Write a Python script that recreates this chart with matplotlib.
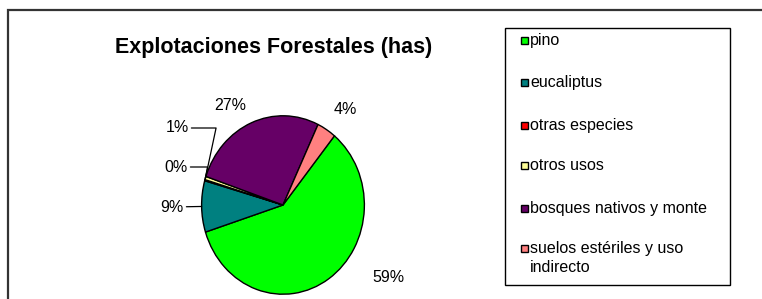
import numpy as np
import matplotlib
matplotlib.use("Agg")
import matplotlib.pyplot as plt
from matplotlib.patches import Rectangle

# ---- data ----
categories = ["pino", "eucaliptus", "otras especies", "otros usos",
              "bosques nativos y monte", "suelos estériles y uso\nindirecto"]
values = [59.2, 9.3, 0.2, 0.6, 26.9, 3.8]
pct_labels = ["59%", "9%", "0%", "1%", "27%", "4%"]
colors = ["#00FF00", "#008080", "#FF0000", "#FFFF99", "#660066", "#FF8080"]
title = "Explotaciones Forestales (has)"

W, H = 762, 299
fig = plt.figure(figsize=(W / 100, H / 100), dpi=100)
FONT = "Liberation Sans"

# outer frame (chart area border, extends beyond the image)
fig.patches.append(Rectangle((8 / W, -0.1), 1.0, (H - 10) / H + 0.1,
                             transform=fig.transFigure, fill=False,
                             edgecolor="#333333", linewidth=1.6))

# pie axes (slightly elliptical)
cx, cy, rx, ry = 283, 205, 83, 91
ax = fig.add_axes([(cx - rx) / W, (H - cy - ry) / H, 2 * rx / W, 2 * ry / H])
wedges, _ = ax.pie(values, colors=colors, startangle=50.8, counterclock=False,
                   wedgeprops=dict(edgecolor="black", linewidth=1.0))
ax.set_aspect("auto")
ax.set_xlim(-1.02, 1.02)
ax.set_ylim(-1.02, 1.02)

# percentage labels
label_pos = {  # figure pixel positions (x, y from top)
    "59%": (388, 278), "9%": (172, 207), "0%": (176, 167),
    "1%": (177, 128), "27%": (230, 105), "4%": (345, 110)}
leader = {"9%", "0%", "1%"}
for w, lab in zip(wedges, pct_labels):
    mid = np.deg2rad((w.theta1 + w.theta2) / 2)
    px, py = label_pos[lab]
    if lab in leader:
        ax.annotate(lab, xy=(np.cos(mid), np.sin(mid)), xycoords="data",
                    xytext=(px, H - py), textcoords="figure pixels",
                    ha="center", va="center", fontsize=11.5, family=FONT,
                    arrowprops=dict(arrowstyle="-", color="black", lw=0.9,
                                    shrinkA=0, shrinkB=0,
                                    connectionstyle="angle,angleA=0,angleB=78,rad=0"
                                    if lab != "9%" else "arc3"),
                    annotation_clip=False)
    else:
        fig.text(px / W, (H - py) / H, lab, ha="center", va="center",
                 fontsize=11.5, family=FONT)

# title
fig.text(274 / W, (H - 47) / H, title, ha="center", va="center",
         fontsize=15.5, fontweight="bold", family=FONT)

# legend (drawn manually to match layout)
lx0, ly0, lx1, ly1 = 505, 28, 730, 285
fig.patches.append(Rectangle((lx0 / W, (H - ly1) / H), (lx1 - lx0) / W,
                             (ly1 - ly0) / H, transform=fig.transFigure,
                             fill=False, edgecolor="black", linewidth=1.0))
row_y = [40, 82, 125, 165, 208, 248]
msz = 7
for cat, col, ry_ in zip(categories, colors, row_y):
    fig.patches.append(Rectangle((521 / W, (H - ry_ - msz / 2) / H), msz / W,
                                 msz / H, transform=fig.transFigure,
                                 facecolor=col, edgecolor="black", linewidth=1.0))
    fig.text(530 / W, (H - ry_ + 7) / H, cat, ha="left", va="top",
             fontsize=11.5, family=FONT, linespacing=1.35)

fig.savefig("out.png", dpi=100)
